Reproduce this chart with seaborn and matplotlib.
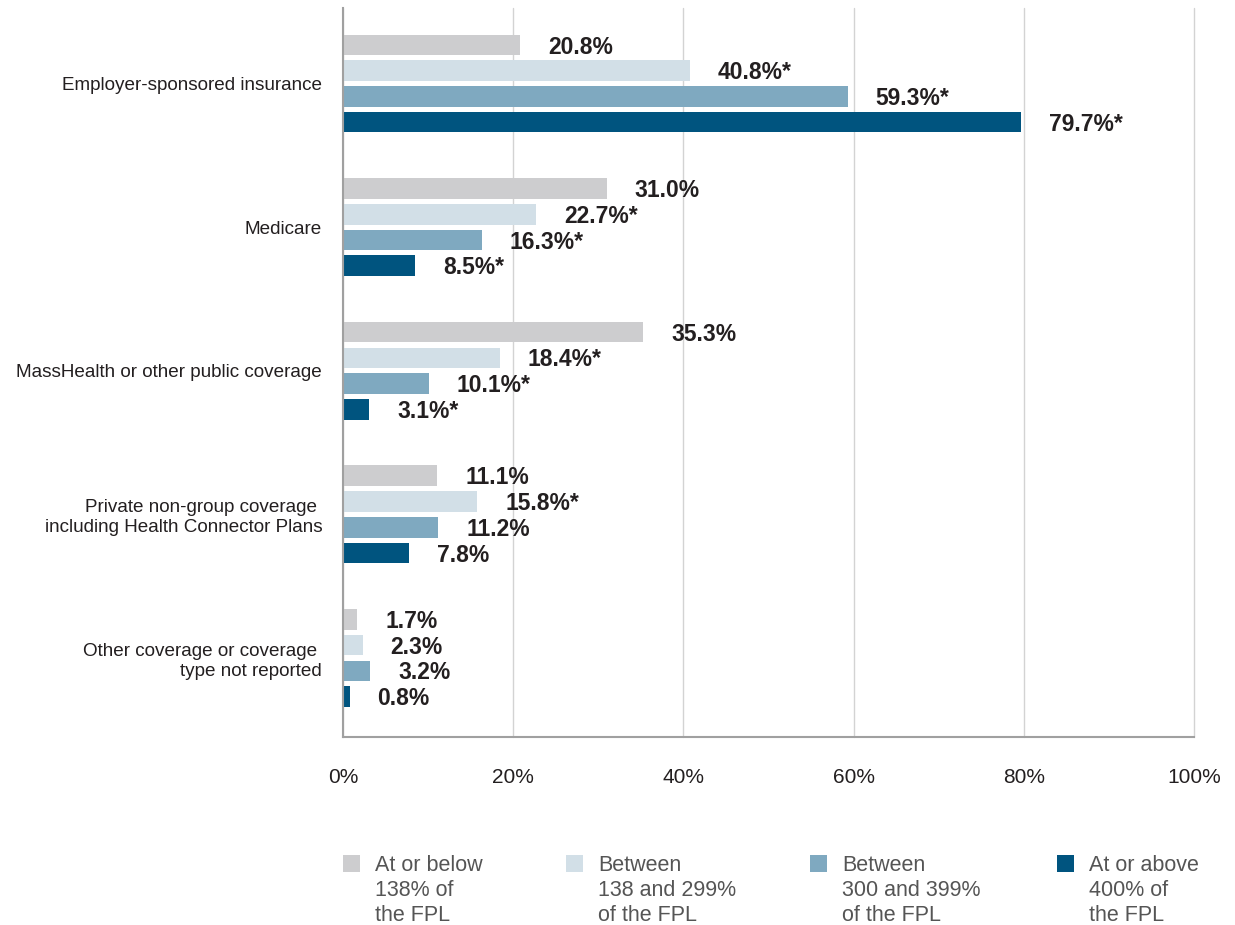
import matplotlib
matplotlib.use("Agg")
import matplotlib.pyplot as plt
from matplotlib.patches import Rectangle
import pandas as pd
import seaborn as sns

categories = [
    "Employer-sponsored insurance",
    "Medicare",
    "MassHealth or other public coverage",
    "Private non-group coverage \nincluding Health Connector Plans",
    "Other coverage or coverage \ntype not reported",
]
groups = [
    "At or below\n138% of\nthe FPL",
    "Between\n138 and 299%\nof the FPL",
    "Between\n300 and 399%\nof the FPL",
    "At or above\n400% of\nthe FPL",
]
at_or_below_138 = [20.8, 31.0, 35.3, 11.1, 1.7]
between_138_299 = [40.8, 22.7, 18.4, 15.8, 2.3]
between_300_399 = [59.3, 16.3, 10.1, 11.2, 3.2]
at_or_above_400 = [79.7, 8.5, 3.1, 7.8, 0.8]
significant = [
    [False, False, False, False, False],
    [True, True, True, True, False],
    [True, True, True, False, False],
    [True, True, True, False, False],
]
colors = ["#cdcdcf", "#d2dfe7", "#7fa9c0", "#00547f"]
x_ticks = [0, 20, 40, 60, 80, 100]

series = [at_or_below_138, between_138_299, between_300_399, at_or_above_400]
rows = []
for g, vals in zip(groups, series):
    for c, v in zip(categories, vals):
        rows.append({"category": c, "group": g, "value": v})
df = pd.DataFrame(rows)

sns.set_style("white")
plt.rcParams["font.family"] = ["Liberation Sans", "DejaVu Sans"]

fig = plt.figure(figsize=(12.35, 9.25), dpi=100)
ax = fig.add_axes([343 / 1235, 1 - 737 / 925, 851 / 1235, 729 / 925])

sns.barplot(
    data=df, x="value", y="category", hue="group", order=categories,
    hue_order=groups, palette=colors, orient="h", width=0.717, gap=0.2,
    errorbar=None, legend=False, saturation=1, linewidth=0, ax=ax,
)

for cont, vals, flags in zip(ax.containers, series, significant):
    labels = [f"{v:.1f}%" + ("*" if s else "") for v, s in zip(vals, flags)]
    anns = ax.bar_label(cont, labels=labels, padding=20, fontsize=16.5,
                        fontweight="bold", color="#231f20")
    for a in anns:
        a.xyann = (20, -1.5)

ax.set_xlim(0, 100)
ax.set_ylim(4.55, -0.526)
ax.set_xticks(x_ticks)
ax.set_xticklabels([f"{t}%" for t in x_ticks])
ax.set_xlabel("")
ax.set_ylabel("")
ax.xaxis.grid(True, color="#d3d3d3", linewidth=1)
for gl in ax.get_xgridlines():
    gl.set_clip_on(False)
ax.yaxis.grid(False)
ax.set_axisbelow(True)
ax.tick_params(axis="x", length=0, pad=22, labelsize=15, labelcolor="#231f20")
ax.tick_params(axis="y", length=0, pad=15, labelsize=13.6, labelcolor="#231f20")
for lbl in ax.get_yticklabels():
    lbl.set_horizontalalignment("right")
for side in ["top", "right"]:
    ax.spines[side].set_visible(False)
ax.spines["left"].set_color("#a0a0a0")
ax.spines["left"].set_linewidth(1.5)
ax.spines["bottom"].set_color("#a0a0a0")
ax.spines["bottom"].set_linewidth(1.5)

# legend: square swatch plus three-line caption for each income group
legend_x = [343, 566, 810, 1057]
for x0, g, col in zip(legend_x, groups, colors):
    fig.add_artist(Rectangle((x0 / 1235, 1 - 872 / 925), 17 / 1235, 17 / 925,
                             facecolor=col, edgecolor="none",
                             transform=fig.transFigure))
    fig.text((x0 + 32) / 1235, 1 - 855 / 925, g, ha="left", va="top",
             fontsize=15.5, color="#555555", linespacing=1.26)

fig.savefig("out.png", dpi=100)
